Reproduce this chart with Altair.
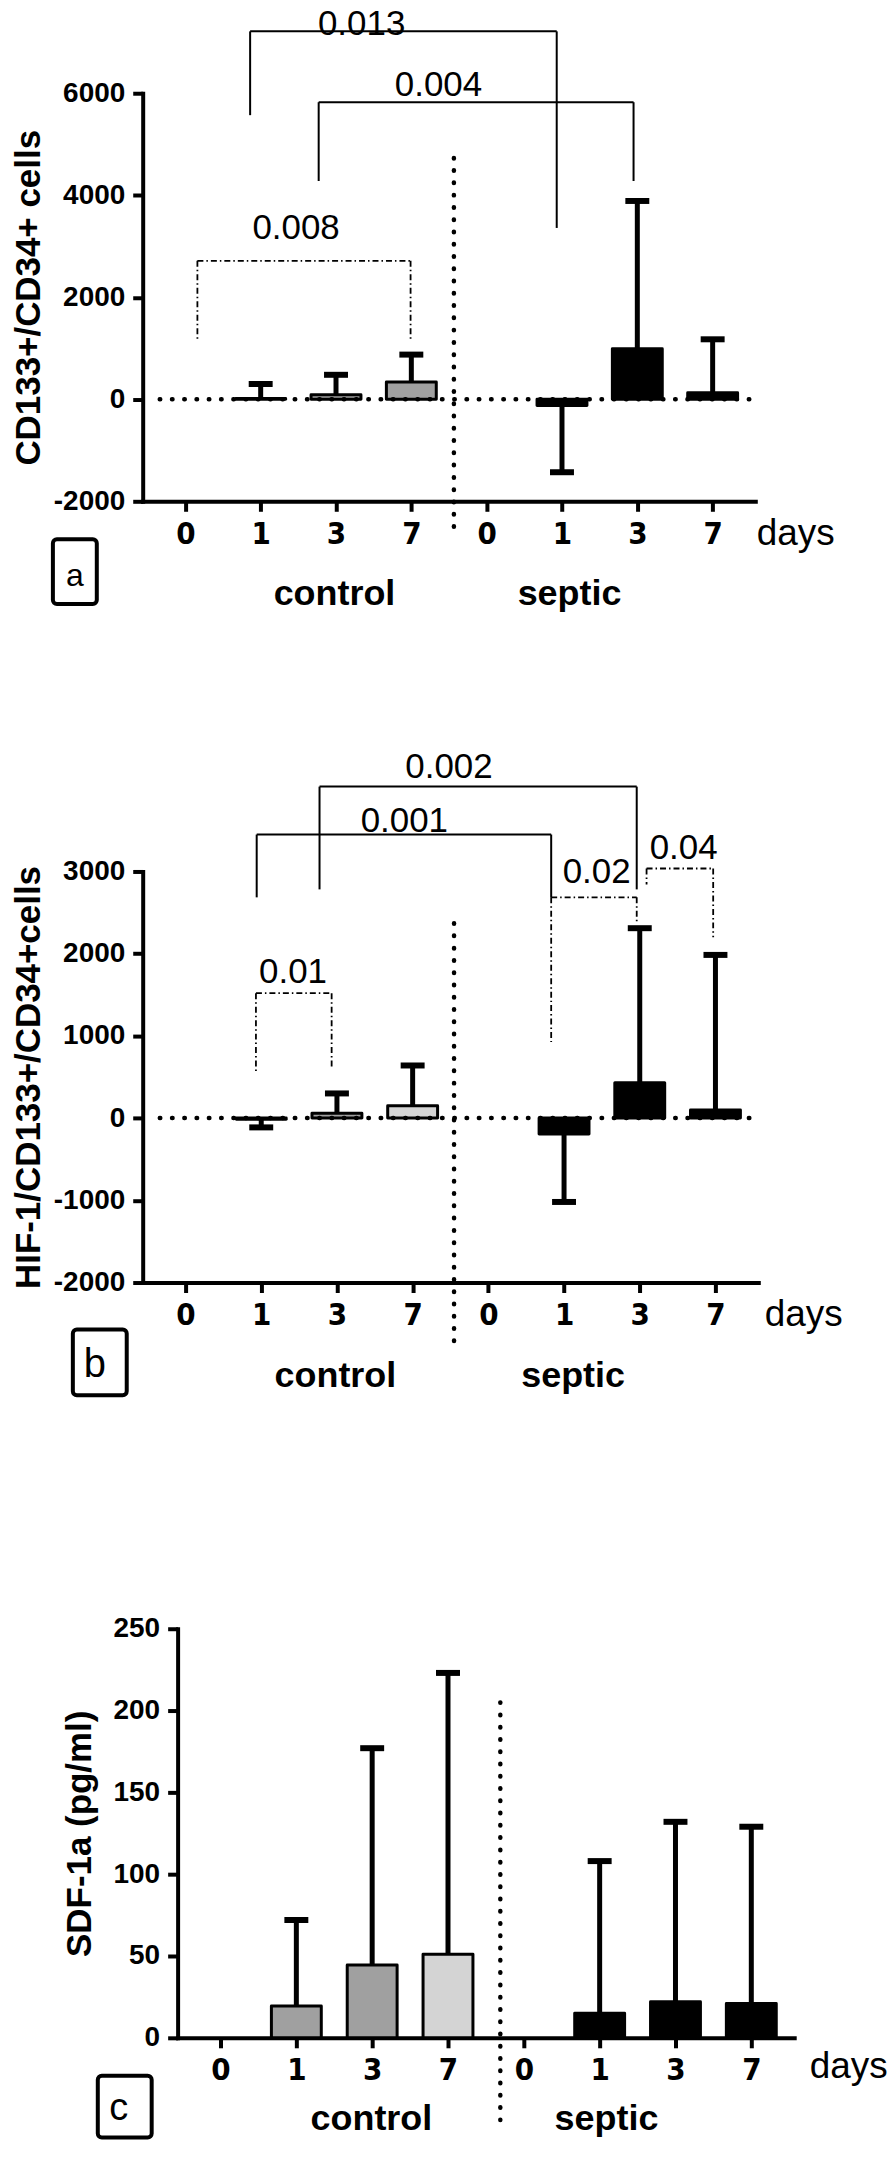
import altair as alt
import pandas as pd

# ---------------- data ----------------
DAY_LABELS = ["0", "1", "3", "7", "0", "1", "3", "7"]
GROUP_NAMES = ["control", "septic"]
BAR_SLOTS = [1, 2, 3, 5, 6, 7]          # category slot of each bar (days 1,3,7 control | 1,3,7 septic)

# panel a : CD133+/CD34+ cells
A_MEAN = [15, 90, 337, -120, 989, 127]
A_ERR = [300, 480, 876, -1430, 3888, 1176]
A_TONE = ["mid", "mid", "mid", "dark", "dark", "dark"]
A_TICKS = [-2000, 0, 2000, 4000, 6000]

# panel b : HIF-1/CD133+/CD34+ cells
B_MEAN = [-15, 60, 150, -194, 430, 100]
B_ERR = [-113, 300, 640, -1020, 2310, 1985]
B_TONE = ["mid", "mid", "light", "dark", "dark", "dark"]
B_TICKS = [-2000, -1000, 0, 1000, 2000, 3000]

# panel c : SDF-1a (pg/ml)
C_MEAN = [19.5, 44.5, 51, 15, 22, 21]
C_ERR = [72, 177, 223, 108, 132, 129]
C_TONE = ["mid", "mid", "light", "dark", "dark", "dark"]
C_TICKS = [0, 50, 100, 150, 200, 250]

# significance brackets: left slot, right slot, top, left-leg end, right-leg end
A_SOLID = dict(x1=[0.86, 1.77], x2=[4.93, 5.95], top=[7213, 5824], lend=[5570, 4279], rend=[3359, 4279])
A_DOTTED = dict(x1=[0.16], x2=[2.99], top=[2714], lend=[1149], rend=[1149])
A_P = dict(text=["0.013", "0.004", "0.008"], x=[2.34, 3.36, 1.47], y=[7140, 5941, 3144])

B_SOLID = dict(x1=[1.77, 0.94], x2=[5.96, 4.83], top=[4032, 3449], lend=[2782, 2685], rend=[2782, 2685])
B_DOTTED = dict(x1=[4.83, 6.09, 0.93], x2=[5.96, 6.97, 1.93], top=[2685, 3036, 1519],
                lend=[925, 2842, 536], rend=[2381, 2199, 597])
B_P = dict(text=["0.002", "0.001", "0.02", "0.04", "0.01"],
           x=[3.48, 2.89, 5.43, 6.58, 1.42], y=[4141, 3476, 2855, 3146, 1641])

# ---------------- styling ----------------
FONT = "Liberation Sans, Arial, sans-serif"
NARROW = "Liberation Sans Narrow, Arial Narrow, DejaVu Sans Condensed, Liberation Sans, sans-serif"
TONE_SCALE = alt.Scale(domain=["mid", "light", "dark"], range=["#a0a0a0", "#d4d4d4", "#000000"])
LABEL_EXPR = "[" + ",".join("'%s'" % d for d in DAY_LABELS) + "][datum.value]"
DOTS = [0.5, 11.8]


def seg_frame(b):
    rows = []
    for x1, x2, t, l, r in zip(b["x1"], b["x2"], b["top"], b["lend"], b["rend"]):
        rows.append(dict(x=x1, x2=x2, y=t, y2=t))
        rows.append(dict(x=x1, x2=x1, y=t, y2=l))
        rows.append(dict(x=x2, x2=x2, y=t, y2=r))
    return pd.DataFrame(rows)


def panel(mean, err, tone, ticks, ytitle, ydom, width, height, yrange, xrange,
          yoffset, ytitle_x, days_x, days_y, divider, zero_line, solid, dotted, pvals,
          letter, box, letter_pos, letter_size, group_x, group_y):
    df = pd.DataFrame({"slot": BAR_SLOTS, "mean": mean, "err": err, "tone": tone})
    xscale = alt.Scale(domain=[-0.5, 7.5], nice=False, zero=False, **({"range": xrange} if xrange else {}))
    yscale = alt.Scale(domain=ydom, nice=False, zero=False, **({"range": yrange} if yrange else {}))
    xaxis = alt.Axis(values=list(range(8)), labelExpr=LABEL_EXPR, title="days",
                     titleX=days_x, titleY=days_y, titleAlign="left", titleBaseline="middle",
                     titleAngle=0, titleFont=FONT, titleFontSize=37, titleFontWeight="normal",
                     titleColor="black", grid=False, domainColor="black", domainWidth=4,
                     domainCap="square", tickColor="black", tickWidth=4, tickSize=10,
                     labelFont=NARROW, labelFontSize=31, labelFontWeight="bold",
                     labelColor="black", labelPadding=8, labelFlush=False, labelOverlap=False)
    yaxis = alt.Axis(values=ticks, labelExpr="toString(datum.value)", title=ytitle,
                     titleX=ytitle_x, titleBaseline="middle", titleAngle=270,
                     titleFont=FONT, titleFontSize=35, titleFontWeight="bold", titleColor="black",
                     grid=False, domainColor="black", domainWidth=4, domainCap="square",
                     tickColor="black", tickWidth=4, tickSize=10, labelFont=FONT,
                     labelFontSize=28, labelFontWeight="bold", labelColor="black",
                     labelPadding=8, offset=yoffset, labelFlush=False, labelOverlap=False)

    base = alt.Chart(df)
    bars = base.mark_bar(size=50, stroke="black", strokeWidth=3, strokeJoin="round").encode(
        x=alt.X("slot:Q", scale=xscale, axis=xaxis),
        y=alt.Y("mean:Q", scale=yscale, axis=yaxis),
        y2=alt.datum(0),
        fill=alt.Fill("tone:N", scale=TONE_SCALE, legend=None),
    )
    stem = base.mark_rule(color="black", strokeWidth=5).encode(x="slot:Q", y="mean:Q", y2="err:Q")
    cap = base.mark_tick(orient="horizontal", size=24, thickness=6, color="black", opacity=1).encode(
        x="slot:Q", y="err:Q")
    layers = [bars, stem, cap]

    if zero_line:
        layers.append(alt.Chart(df.head(1)).mark_rule(color="black", strokeWidth=4.5, strokeDash=DOTS,
                                                      strokeCap="round").encode(
            x=alt.datum(-0.34), x2=alt.datum(7.5), y=alt.datum(0)))
    layers.append(alt.Chart(df.head(1)).mark_rule(color="black", strokeWidth=4.5, strokeDash=DOTS,
                                                  strokeCap="round").encode(
        x=alt.datum(divider[0]), y=alt.datum(divider[1]), y2=alt.datum(divider[2])))
    if solid:
        layers.append(alt.Chart(seg_frame(solid)).mark_rule(color="black", strokeWidth=2).encode(
            x="x:Q", x2="x2:Q", y="y:Q", y2="y2:Q"))
    if dotted:
        layers.append(alt.Chart(seg_frame(dotted)).mark_rule(color="black", strokeWidth=1.8,
                                                            strokeDash=[6, 3, 1.5, 3]).encode(
            x="x:Q", x2="x2:Q", y="y:Q", y2="y2:Q"))
    if pvals:
        layers.append(alt.Chart(pd.DataFrame(pvals)).mark_text(
            font=FONT, fontSize=35, color="black", align="center", baseline="alphabetic").encode(
            x="x:Q", y="y:Q", text="text:N"))
    gdf = pd.DataFrame({"g": GROUP_NAMES, "x": group_x})
    layers.append(alt.Chart(gdf).mark_text(font=FONT, fontSize=36, fontWeight="bold", color="black",
                                           align="center", baseline="middle").encode(
        x="x:Q", y=alt.value(group_y), text="g:N"))
    ldf = pd.DataFrame({"letter": [letter]})
    layers.append(alt.Chart(ldf).mark_rect(fill="white", stroke="black", strokeWidth=4,
                                           cornerRadius=4).encode(
        x=alt.value(box[0]), x2=alt.value(box[1]), y=alt.value(box[2]), y2=alt.value(box[3])))
    layers.append(alt.Chart(ldf).mark_text(font=FONT, fontSize=letter_size, color="black",
                                           align="center", baseline="alphabetic").encode(
        x=alt.value(letter_pos[0]), y=alt.value(letter_pos[1]), text="letter:N"))
    return alt.layer(*layers).properties(width=width, height=height)


pa = panel(A_MEAN, A_ERR, A_TONE, A_TICKS, "CD133+/CD34+ cells", [-2000, 6000], 614, 409, None, None,
           0, -114, 615, 32, (3.565, 4729, -2727), True, A_SOLID, A_DOTTED, A_P,
           "a", (-90, -46, 447, 512), (-68, 494), 32, [1.98, 5.1], 502)
pb = panel(B_MEAN, B_ERR, B_TONE, B_TICKS, "HIF-1/CD133+/CD34+cells", [-2000, 3000], 617, 436,
           [436, 24], None, 0, -114, 623, 32, (3.547, 2369, -2728), True, B_SOLID, B_DOTTED, B_P,
           "b", (-70, -16, 483, 549), (-48, 531), 40, [1.98, 5.12], 530)
pc = panel(C_MEAN, C_ERR, C_TONE, C_TICKS, "SDF-1a (pg/ml)", [0, 250], 653, 410, None, [35, 653],
           -35, -98, 668, 29, (3.69, 205, -50.6), False, None, None, None,
           "c", (-45, 9, 448, 510), (-24, 492), 38, [1.99, 5.09], 491)

chart = alt.vconcat(pa, pb, pc, spacing=347, bounds="flush").properties(
    padding={"top": -4, "left": 3, "right": 0, "bottom": 0}
).configure_view(stroke=None)

chart.save("out.html", embed_options={"renderer": "svg", "actions": False})
